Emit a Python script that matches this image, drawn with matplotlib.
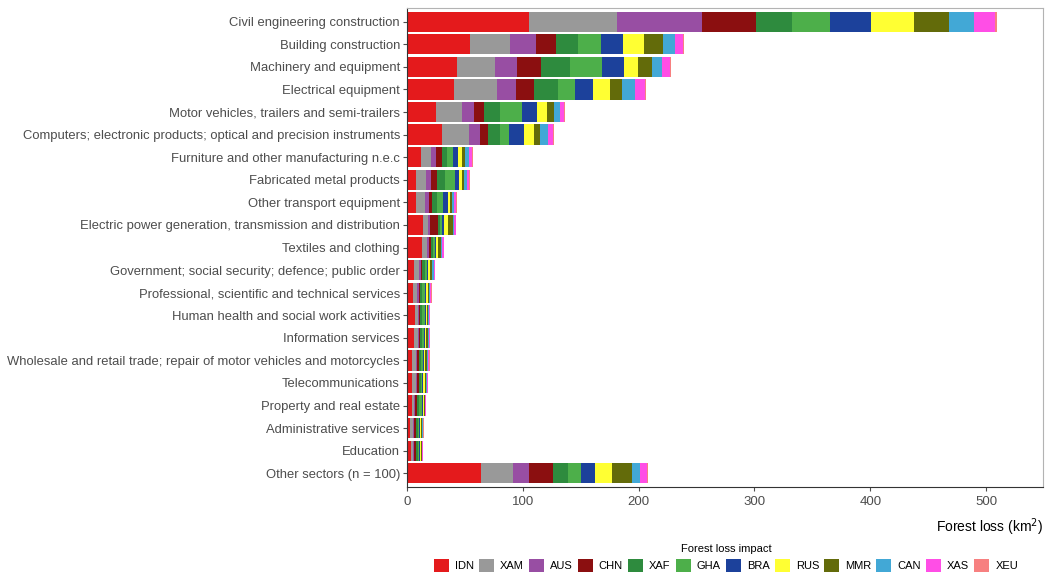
import numpy as np
import matplotlib
matplotlib.use('Agg')
import matplotlib.pyplot as plt

plt.rcParams['font.family'] = ['Liberation Sans', 'DejaVu Sans']

# sectors, top to bottom
sectors = [
    'Civil engineering construction',
    'Building construction',
    'Machinery and equipment',
    'Electrical equipment',
    'Motor vehicles, trailers and semi-trailers',
    'Computers; electronic products; optical and precision instruments',
    'Furniture and other manufacturing n.e.c',
    'Fabricated metal products',
    'Other transport equipment',
    'Electric power generation, transmission and distribution',
    'Textiles and clothing',
    'Government; social security; defence; public order',
    'Professional, scientific and technical services',
    'Human health and social work activities',
    'Information services',
    'Wholesale and retail trade; repair of motor vehicles and motorcycles',
    'Telecommunications',
    'Property and real estate',
    'Administrative services',
    'Education',
    'Other sectors (n = 100)',
]

regions = ['IDN', 'XAM', 'AUS', 'CHN', 'XAF', 'GHA', 'BRA', 'RUS', 'MMR', 'CAN', 'XAS', 'XEU']
colors = ['#E41A1C', '#999999', '#984EA3', '#8B0F10', '#2E8B3E', '#4DAF4A',
          '#1C419B', '#FFFF33', '#636B0A', '#42A8D6', '#FF4EE6', '#F78080']

# forest loss (km2) per sector, one list per impact region
IDN = [105.2, 54.1, 43.0, 40.6, 24.8, 29.9, 11.8, 8.1, 8.1, 14.1, 12.7, 6.3, 4.9, 6.6, 5.8, 4.3, 4.3, 4.0, 2.6, 3.7, 63.9]
XAM = [76.3, 35.3, 33.3, 36.8, 22.4, 23.4, 9.2, 8.0, 7.2, 4.0, 4.3, 4.1, 3.7, 2.9, 3.4, 3.2, 3.2, 2.3, 2.6, 1.8, 27.6]
AUS = [73.2, 21.8, 18.5, 16.4, 10.4, 10.0, 4.3, 4.9, 3.4, 2.0, 1.7, 1.4, 1.5, 0.9, 1.2, 1.4, 1.4, 0.9, 1.1, 0.8, 14.1]
CHN = [47.0, 17.8, 21.1, 15.6, 9.2, 6.6, 4.6, 4.6, 2.9, 7.0, 1.7, 1.4, 1.1, 0.8, 1.1, 1.2, 1.2, 1.4, 1.2, 1.5, 20.2]
XAF = [31.0, 18.8, 25.2, 20.7, 13.2, 10.1, 4.4, 6.9, 4.0, 1.7, 2.1, 2.1, 2.0, 2.0, 1.7, 2.0, 1.7, 1.8, 1.7, 1.4, 12.9]
GHA = [32.9, 19.9, 27.6, 14.7, 19.3, 8.4, 5.7, 8.7, 5.8, 1.4, 1.7, 2.0, 2.3, 2.1, 1.2, 1.7, 1.4, 2.3, 1.2, 1.2, 11.3]
BRA = [35.3, 18.5, 18.5, 15.5, 13.2, 12.6, 4.0, 4.0, 3.7, 1.5, 1.1, 1.1, 0.9, 0.8, 1.1, 0.9, 0.9, 0.8, 0.8, 0.5, 12.3]
RUS = [36.6, 18.8, 12.4, 15.0, 8.4, 8.7, 3.8, 2.0, 2.0, 3.4, 1.8, 1.5, 1.4, 1.2, 1.2, 1.1, 1.2, 0.9, 1.2, 1.2, 15.0]
MMR = [30.9, 15.8, 12.1, 10.1, 6.0, 5.4, 2.6, 2.0, 2.0, 4.9, 2.3, 1.4, 1.2, 1.1, 1.1, 1.2, 0.8, 0.9, 0.8, 0.9, 16.7]
CAN = [21.2, 10.7, 8.1, 11.5, 5.2, 6.9, 3.1, 2.9, 1.5, 0.9, 1.1, 1.7, 0.9, 0.6, 1.2, 1.1, 1.2, 0.5, 0.6, 0.2, 7.5]
XAS = [17.8, 6.7, 7.0, 8.9, 3.8, 4.1, 2.3, 1.7, 2.0, 1.4, 1.2, 1.2, 1.1, 0.6, 0.6, 0.9, 0.5, 0.6, 0.3, 0.6, 5.5]
XEU = [2.0, 1.4, 1.0, 0.9, 0.8, 0.6, 0.9, 0.9, 0.6, 0.3, 0.5, 0.3, 0.3, 0.3, 0.3, 0.6, 0.3, 0.3, 0.3, 0.3, 0.8]

series = [IDN, XAM, AUS, CHN, XAF, GHA, BRA, RUS, MMR, CAN, XAS, XEU]

fig = plt.figure(figsize=(10.46, 5.81), dpi=100)
ax = fig.add_axes([0.389, 0.162, 0.608, 0.824])

ypos = np.arange(len(sectors))
left = np.zeros(len(sectors))
for name, vals, col in zip(regions, series, colors):
    vals = np.array(vals)
    ax.barh(ypos, vals, left=left, height=0.9, color=col, label=name, linewidth=0)
    left += vals

ax.set_yticks(ypos)
ax.set_yticklabels(sectors)
ax.set_ylim(len(sectors) - 0.4, -0.6)
ax.set_xlim(0, 549)
ax.set_xticks([0, 100, 200, 300, 400, 500])

ax.tick_params(axis='y', labelsize=9.35, colors='#4D4D4D', length=3, width=0.8, pad=2)
ax.tick_params(axis='x', labelsize=9.5, colors='#4D4D4D', length=3, width=0.8)
for lbl in ax.get_yticklabels() + ax.get_xticklabels():
    lbl.set_color('#4D4D4D')
for side in ['top', 'right', 'left', 'bottom']:
    ax.spines[side].set_color('#B3B3B3')
    ax.spines[side].set_linewidth(0.8)
ax.spines['left'].set_color('#333333')
ax.spines['bottom'].set_color('#333333')

ax.set_xlabel('Forest loss (km$^2$)', fontsize=10, loc='right', labelpad=6)

leg = fig.legend(loc='center', bbox_to_anchor=(0.694, 0.040), ncol=12, frameon=False,
                 title='Forest loss impact', title_fontsize=8, fontsize=8,
                 handlelength=1.35, handleheight=1.35, handletextpad=0.55, columnspacing=0.45)

plt.savefig('out.png', dpi=100)
